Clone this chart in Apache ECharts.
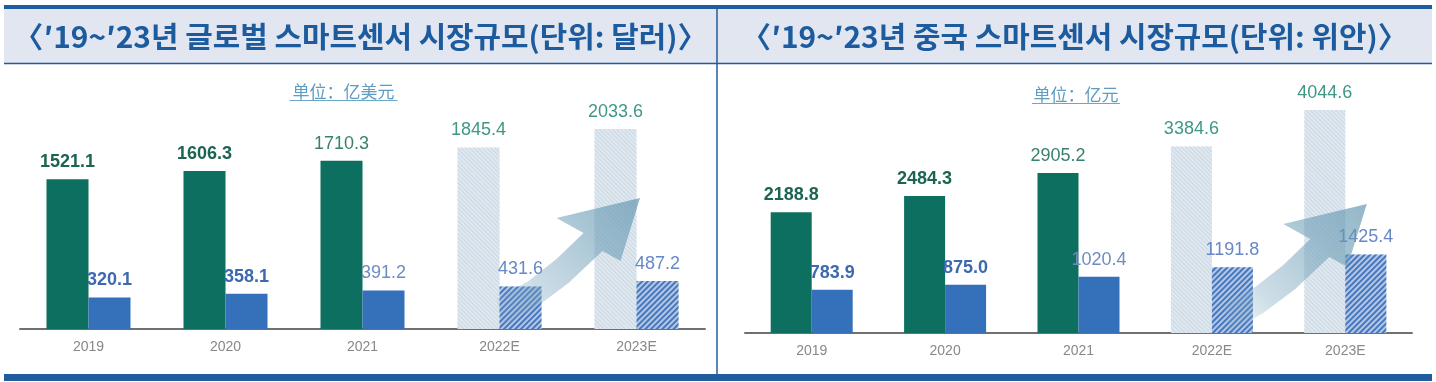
<!DOCTYPE html>
<html>
<head>
<meta charset="utf-8">
<script src="https://cdn.jsdelivr.net/npm/echarts@6/dist/echarts.min.js"></script>
<style>
html,body{margin:0;padding:0;background:#fff;}
#c{width:1436px;height:382px;}
</style>
</head>
<body>
<div id="c"></div>
<script>
// ---- data ----
const categories = ['2019', '2020', '2021', '2022E', '2023E'];
const globalMarket = [1521.1, 1606.3, 1710.3, 1845.4, 2033.6];
const globalSub = [320.1, 358.1, 391.2, 431.6, 487.2];
const chinaMarket = [2188.8, 2484.3, 2905.2, 3384.6, 4044.6];
const chinaSub = [783.9, 875.0, 1020.4, 1191.8, 1425.4];
const panelTitles = ['〈′19~′23년 글로벌 스마트센서 시장규모(단위: 달러)〉', '〈′19~′23년 중국 스마트센서 시장규모(단위: 위안)〉'];
const unitLabels = ['单位：亿美元', '单位：亿元'];

// ---- styles ----
const GREEN = '#0d6f5f', BLUE = '#3571ba';
const isForecast = c => /E$/.test(c);
function greenLabelColor(i) { return i < 2 ? '#1b6452' : (isForecast(categories[i]) ? '#3f9785' : '#3a8070'); }
function blueLabelColor(i) { return i < 2 ? '#3c69b0' : (isForecast(categories[i]) ? '#6688c6' : '#6f8cc2'); }

function buildData(values, kind) {
  return values.map((v, i) => {
    const fc = isForecast(categories[i]);
    const item = { value: v };
    if (kind === 'main') {
      item.itemStyle = fc ? {
        color: '#e0e8ef',
        decal: { symbol: 'rect', symbolSize: 1, color: 'rgba(200,214,226,0.9)', dashArrayX: [1, 0], dashArrayY: [1, 2], rotation: Math.PI / 4 }
      } : { color: GREEN };
      item.label = { color: greenLabelColor(i), fontWeight: i < 2 ? 'bold' : 'normal' };
    } else {
      item.itemStyle = fc ? {
        color: '#b3c7e6',
        decal: { symbol: 'rect', symbolSize: 1, color: '#4777bd', dashArrayX: [1, 0], dashArrayY: [1.5, 2], rotation: -Math.PI / 4 }
      } : { color: BLUE };
      item.label = { color: blueLabelColor(i), fontWeight: i < 2 ? 'bold' : 'normal' };
    }
    return item;
  });
}

function xAxis(gi) {
  return {
    type: 'category', gridIndex: gi, data: categories,
    axisLine: { lineStyle: { color: '#707070', width: 2 } },
    axisTick: { inside: true, length: 5, lineStyle: { color: '#707070', width: 1.5 } },
    axisLabel: { color: '#888888', fontSize: 14, margin: 11, fontFamily: 'Arial, "Liberation Sans", sans-serif' }
  };
}
function yAxis(gi, max) {
  return { type: 'value', gridIndex: gi, min: 0, max: max, show: false, splitLine: { show: false } };
}
const labelBase = { show: true, position: 'top', distance: 8, fontSize: 18, fontFamily: 'Arial, "Liberation Sans", sans-serif', formatter: p => p.value.toFixed(1) };

function bar(name, gi, values, kind, bw) {
  return {
    name: name, type: 'bar', xAxisIndex: gi, yAxisIndex: gi,
    barWidth: bw, barGap: '0%', label: labelBase,
    data: buildData(values, kind)
  };
}

const chart = echarts.init(document.getElementById('c'), null, { renderer: 'canvas' });
chart.setOption({
  animation: false,
  backgroundColor: '#ffffff',
  grid: [
    { left: 20, right: 731, top: 83, bottom: 53 },
    { left: 745, right: 24, top: 85, bottom: 49 }
  ],
  xAxis: [xAxis(0), xAxis(1)],
  yAxis: [yAxis(0, 2500), yAxis(1, 4500)],
  series: [
    bar('글로벌 스마트센서 시장규모', 0, globalMarket, 'main', 42),
    bar('글로벌 세부 시장', 0, globalSub, 'sub', 42),
    bar('중국 스마트센서 시장규모', 1, chinaMarket, 'main', 41),
    bar('중국 세부 시장', 1, chinaSub, 'sub', 41)
  ]
});

// ---- decorations: frame, headers, unit labels, growth arrows ----
const HEAD_BLUE = '#1f5c9e';
const graphics = [
  { type: 'rect', shape: { x: 4, y: 9, width: 1428, height: 54 }, style: { fill: '#e2e6f0' }, z: 0 },
  { type: 'rect', shape: { x: 4, y: 5, width: 1428, height: 4 }, style: { fill: HEAD_BLUE }, z: 1 },
  { type: 'line', shape: { x1: 4, y1: 63.5, x2: 1432, y2: 63.5 }, style: { stroke: HEAD_BLUE, lineWidth: 1.5 }, z: 1 },
  { type: 'line', shape: { x1: 717, y1: 9, x2: 717, y2: 374 }, style: { stroke: HEAD_BLUE, lineWidth: 1.5 }, z: 1 },
  { type: 'rect', shape: { x: 4, y: 374, width: 1428, height: 7 }, style: { fill: HEAD_BLUE }, z: 1 }
];
const titleCenters = [360.5, 1074.5];
panelTitles.forEach((t, i) => {
  graphics.push({
    type: 'text', x: titleCenters[i], y: 37, scaleX: 1.03, z: 2,
    style: { text: t, fill: '#1d5b9f', fontSize: 29, fontWeight: 'bold', fontFamily: '"Noto Sans CJK KR", sans-serif', align: 'center', verticalAlign: 'middle', textAlign: 'center', textVerticalAlign: 'middle' }
  });
});
const unitPos = [[343.5, 92], [1076, 95]];
const unitHalf = [54, 44];
unitLabels.forEach((u, i) => {
  const [x, y] = unitPos[i];
  graphics.push({ type: 'text', x: x, y: y, z: 2, style: { text: u, fill: '#5d9cc4', fontSize: 17, fontFamily: '"Noto Sans CJK SC", sans-serif', align: 'center', verticalAlign: 'middle', textAlign: 'center', textVerticalAlign: 'middle' } });
  graphics.push({ type: 'line', z: 2, shape: { x1: x - unitHalf[i], y1: y + 8.5, x2: x + unitHalf[i], y2: y + 8.5 }, style: { stroke: '#6ea6c8', lineWidth: 1 } });
});
// arrow shape (pixel offsets from the 2023E category centre on the axis)
const arrowShape = [[3.5, -131], [-80, -111], [-53, -96], [-80, -70], [-108, -48], [-140, -30], [-134, -3], [-100, -22], [-68, -46], [-34, -78], [-16, -68]];
const arrowShift = [[0, 0], [18, 2]];
[0, 1].forEach(gi => {
  const a = chart.convertToPixel({ xAxisIndex: gi, yAxisIndex: gi }, [categories[4], 0]);
  const pts = arrowShape.map(([dx, dy]) => [a[0] + dx + arrowShift[gi][0], a[1] + dy + arrowShift[gi][1]]);
  graphics.push({
    type: 'polygon', z: 5, shape: { points: pts },
    style: {
      fill: { type: 'linear', x: 0, y: 1, x2: 1, y2: 0, colorStops: [
        { offset: 0, color: 'rgba(130,172,195,0.05)' },
        { offset: 0.3, color: 'rgba(125,168,192,0.4)' },
        { offset: 0.7, color: 'rgba(105,155,180,0.58)' },
        { offset: 1, color: 'rgba(95,148,175,0.68)' }
      ] }
    }
  });
});
chart.setOption({ graphic: graphics });
</script>
</body>
</html>
